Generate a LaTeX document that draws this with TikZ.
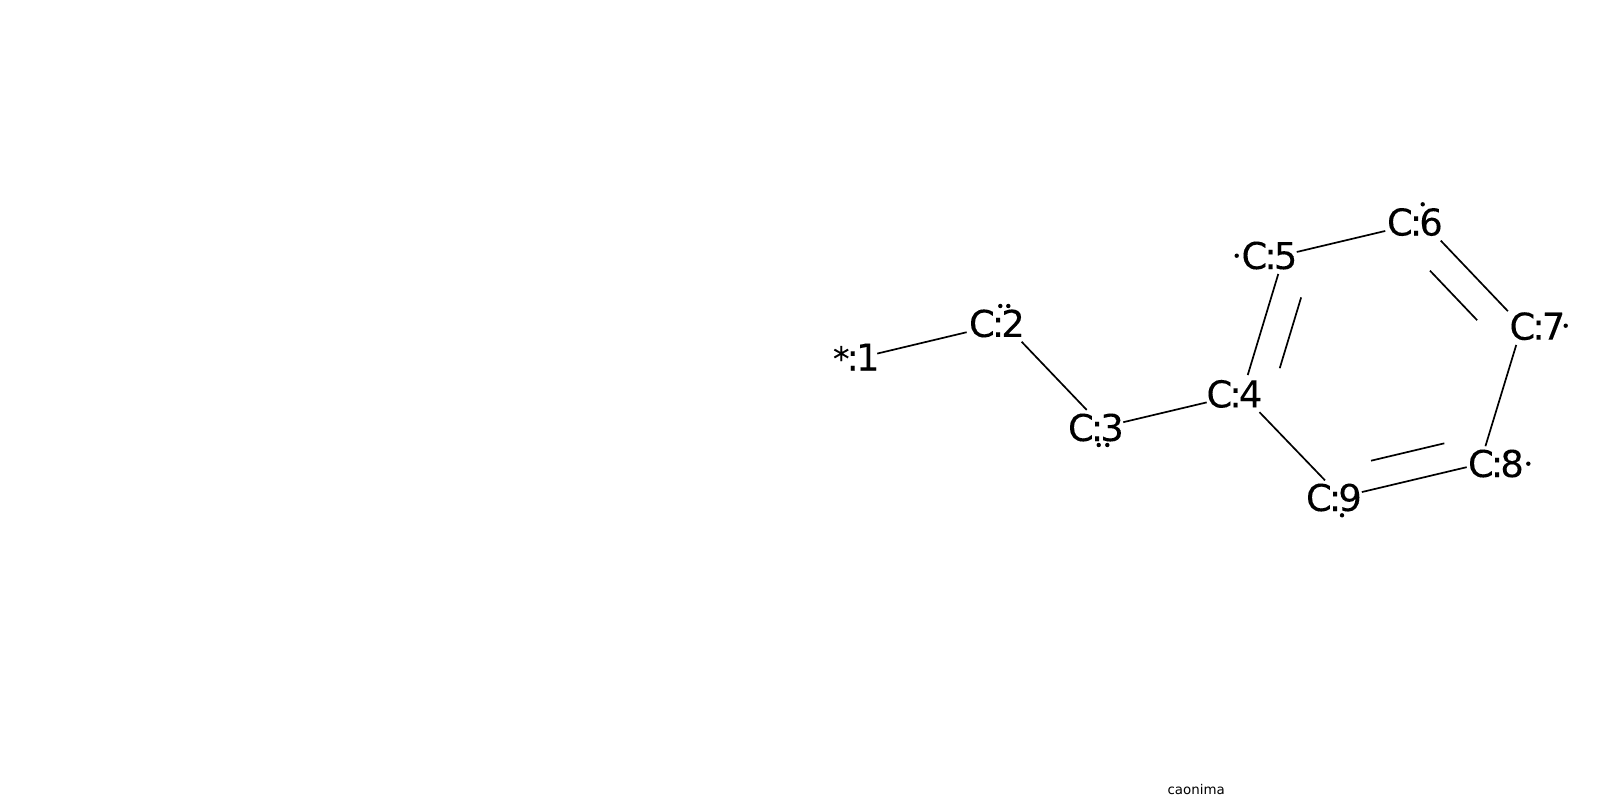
\documentclass[tikz,border=0pt]{standalone}
\usepackage{fontspec}
\setmainfont[FakeBold=0.12]{DejaVu Sans}
\newfontfamily\capfont{DejaVu Sans}
\usetikzlibrary{calc}
\newcommand{\atomtext}[4]{\smash{\makebox[0pt][l]{\kern#1bp\raisebox{#2bp}{#3\kern-3bp:\kern-3bp#4}}}}
\tikzset{
  atom/.style={inner sep=0pt,outer sep=0pt,minimum size=0pt,font=\fontsize{37bp}{37bp}\selectfont},
  bond/.style={draw=black,line width=1.7bp,line cap=butt},
  radical/.style={circle,fill=black,inner sep=0pt,minimum size=4.4bp},
  caption/.style={inner sep=0pt,anchor=base west,font=\capfont\fontsize{13.4bp}{14bp}\selectfont}
}
\begin{document}
\begin{tikzpicture}[x=1bp,y=-1bp]
\useasboundingbox (0,0) rectangle (1600,800);
\node[atom] (c1) at (865,356.5) {\atomtext{-32}{-14}{{\fontsize{33bp}{33bp}\selectfont *}}{1}};
\node[atom] (c2) at (1004,323.3) {\atomtext{-35}{-13.6}{C}{2}};
\node[atom] (c3) at (1103,427) {\atomtext{-35}{-14}{C}{3}};
\node[atom] (c4) at (1242,394) {\atomtext{-35.5}{-13.4}{C}{4}};
\node[atom] (c5) at (1284,255) {\atomtext{-42.5}{-14}{C}{5}};
\node[atom] (c6) at (1423,222) {\atomtext{-36}{-13.5}{C}{6}};
\node[atom] (c7) at (1522,326) {\atomtext{-12.5}{-13.7}{C}{7}};
\node[atom] (c8) at (1480,464) {\atomtext{-12}{-13}{C}{8}};
\node[atom] (c9) at (1341,497) {\atomtext{-35}{-14}{C}{9}};
\draw[bond,shorten <=12.6bp,shorten >=38.4bp] (c1) -- (c2);
\draw[bond,shorten <=25.5bp,shorten >=23.6bp] (c2) -- (c3);
\draw[bond,shorten <=20.8bp,shorten >=36.3bp] (c3) -- (c4);
\draw[bond,shorten <=19.8bp,shorten >=19.8bp] (c4) -- (c5);
\draw[bond,shorten <=13.1bp,shorten >=38.8bp] (c5) -- (c6);
\draw[bond,shorten <=25.7bp,shorten >=20.5bp] (c6) -- (c7);
\draw[bond,shorten <=19.8bp,shorten >=18.6bp] (c7) -- (c8);
\draw[bond,shorten <=13.7bp,shorten >=21.4bp] (c8) -- (c9);
\draw[bond,shorten <=23.1bp,shorten >=25.2bp] (c9) -- (c4);
\draw[bond,shorten <=35.7bp,shorten >=35.5bp] ($(c4)+(27.4,8.4)$) -- ($(c5)+(27.4,8.4)$);
\draw[bond,shorten <=40bp,shorten >=35.2bp] ($(c6)+(-20.6,19.7)$) -- ($(c7)+(-20.6,19.7)$);
\draw[bond,shorten <=29.9bp,shorten >=37.6bp] ($(c8)+(-6.6,-27.6)$) -- ($(c9)+(-6.6,-27.6)$);
\node[radical] (r2a) at (1000.3,306) {};
\node[radical] (r2b) at (1008.3,306) {};
\node[radical] (r3a) at (1098.7,445) {};
\node[radical] (r3b) at (1107.3,445) {};
\node[radical] (r5) at (1236.7,255.7) {};
\node[radical] (r6) at (1422.7,204.3) {};
\node[radical] (r7) at (1565.7,325.7) {};
\node[radical] (r8) at (1528.3,463.7) {};
\node[radical] (r9) at (1342,515.3) {};
\node[caption] (cap) at (1167.3,794) {caonima};
\end{tikzpicture}
\end{document}
